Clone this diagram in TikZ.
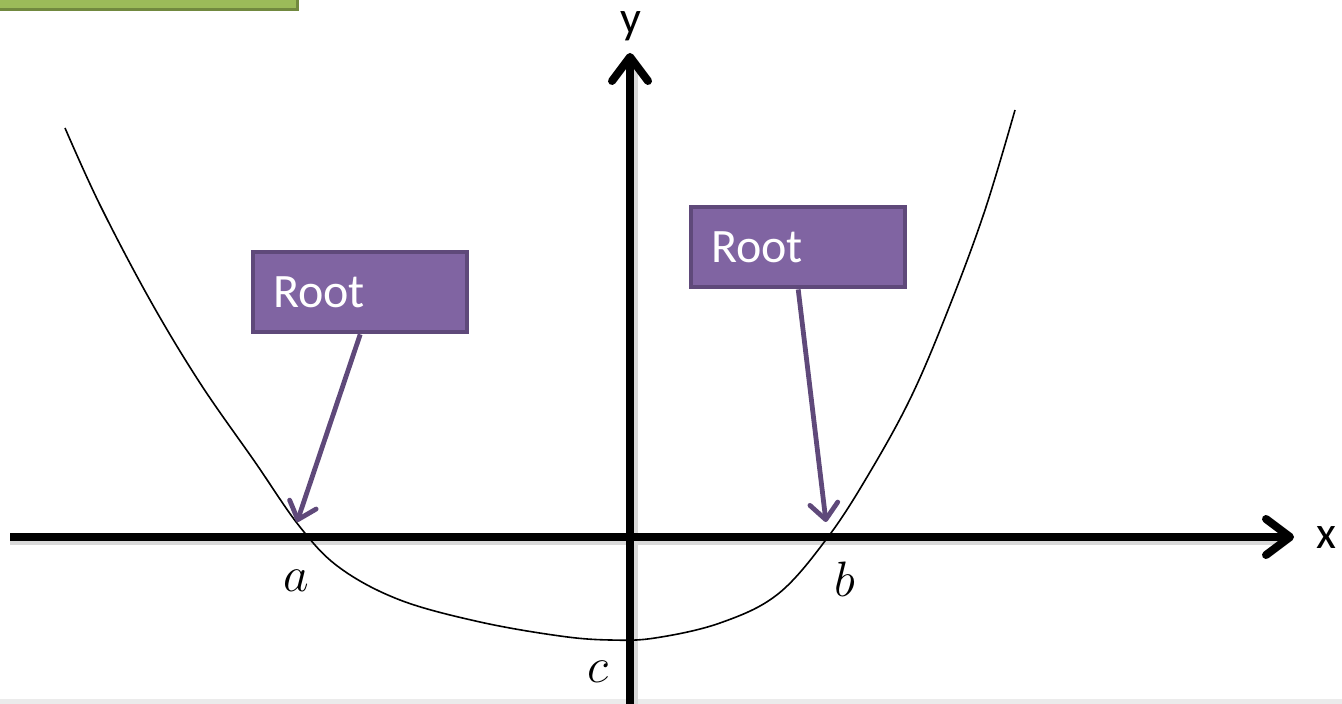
\documentclass[tikz,border=0pt]{standalone}
\usepackage{fontspec}
\setmainfont{Carlito}
\usetikzlibrary{arrows.meta}
\definecolor{gfill}{HTML}{9BBB59}
\definecolor{gline}{HTML}{71893F}
\definecolor{pfill}{HTML}{8064A2}
\definecolor{pline}{HTML}{5F497A}
\tikzset{
  rootbox/.style={draw=pline, fill=pfill, line width=2.2pt, text=white, font=\fontsize{24}{26}\selectfont,
    minimum height=40pt, text width=87pt, inner xsep=10pt, align=left, anchor=north west},
  pointer/.style={draw=pline, line width=2.4pt, -{Straight Barb[length=8pt,width=14pt,line cap=round,line join=round]}},
  axis/.style={line width=4pt, -{Straight Barb[length=12pt,width=18pt,line cap=round,line join=round]}},
  axlabel/.style={font=\fontsize{23}{25}\selectfont, inner sep=0pt},
  mathlabel/.style={font=\fontsize{26}{28}\selectfont, inner sep=0pt},
}
\begin{document}
\begin{tikzpicture}[x=0.5pt,y=-0.5pt]
\useasboundingbox (0,0) rectangle (1342,704);
% top-left green box
\fill[gfill] (-10,-30) rectangle (298,11);
\draw[gline, line width=1.5pt] (-10,10) -- (297,10) -- (297,-30);
% bottom light band
\fill[black!8] (0,699) rectangle (1342,704);
% axis shadows
\draw[black!15, line width=4pt] (10,541) -- (1285,541);
\draw[black!15, line width=4pt] (634,704) -- (634,70);
% axes
\coordinate (xl) at (10,537);
\coordinate (xr) at (1294,537);
\coordinate (yb) at (630,704);
\coordinate (yt) at (630,53);
\draw[axis] (xl) -- (xr);
\draw[axis] (yb) -- (yt);
\node[axlabel] (ylab) at (631,26) {y};
\node[axlabel] (xlab) at (1326,538) {x};
% curve
\draw[line width=0.8pt] plot[smooth, tension=0.6] coordinates {
 (65,128) (100,205) (150,300) (200,383) (255,462) (300,527) (340,568) (400,600)
 (480,622) (560,636) (610,640) (655,638) (720,623) (778,594) (828,537) (870,472)
 (912,395) (950,305) (985,210) (1015,110)};
% labels
\node[mathlabel] (la) at (296,581) {$a$};
\node[mathlabel] (lb) at (845,579) {$b$};
\node[mathlabel] (lc) at (598,672) {$c$};
% root boxes
\node[rootbox] (r1) at (251,250) {Root};
\node[rootbox] (r2) at (689,205) {Root};
\coordinate (ta) at (297,522);
\coordinate (tb) at (826,522);
\draw[pointer] (r1.south) -- (ta);
\draw[pointer] (r2.south) -- (tb);
\end{tikzpicture}
\end{document}
